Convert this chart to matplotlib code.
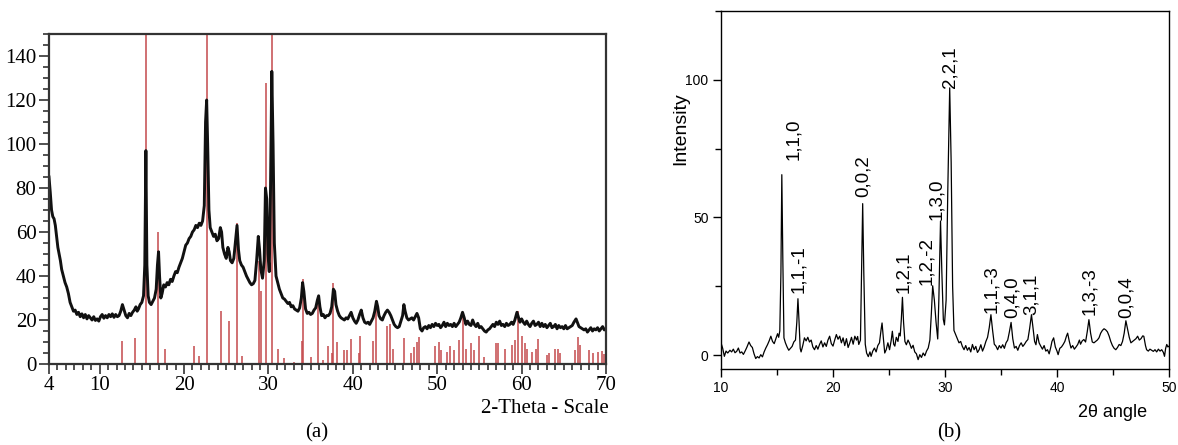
import matplotlib
matplotlib.use("Agg")
import matplotlib.pyplot as plt
from matplotlib.ticker import MultipleLocator

a_2theta = [
    4.0, 4.15, 4.3, 4.45, 4.6, 4.75, 4.9, 5.05, 5.2, 5.35, 5.5, 5.7, 5.9, 6.1, 6.3, 6.5, 6.7, 6.9,
    7.1, 7.3, 7.5, 7.7, 7.9, 8.1, 8.3, 8.5, 8.7, 8.9, 9.1, 9.3, 9.5, 9.7, 9.9, 10.1, 10.3, 10.5,
    10.7, 10.9, 11.1, 11.3, 11.5, 11.7, 11.9, 12.1, 12.3, 12.5, 12.7, 12.9, 13.1, 13.3, 13.5,
    13.7, 13.9, 14.1, 14.3, 14.45, 14.6, 14.8, 15.0, 15.2, 15.35, 15.48, 15.6, 15.75, 15.9,
    16.1, 16.3, 16.5, 16.7, 16.85, 16.98, 17.1, 17.25, 17.4, 17.6, 17.8, 18.0, 18.2, 18.4,
    18.6, 18.8, 19.0, 19.2, 19.4, 19.6, 19.8, 20.0, 20.2, 20.4, 20.6, 20.8, 21.0, 21.2, 21.4,
    21.6, 21.8, 22.0, 22.2, 22.4, 22.55, 22.68, 22.8, 22.95, 23.1, 23.3, 23.5, 23.7, 23.9,
    24.1, 24.3, 24.45, 24.6, 24.8, 25.0, 25.2, 25.35, 25.5, 25.7, 25.9, 26.1, 26.28, 26.45,
    26.6, 26.8, 27.0, 27.2, 27.4, 27.6, 27.8, 28.0, 28.2, 28.4, 28.6, 28.8, 28.95, 29.1, 29.3,
    29.5, 29.65, 29.8, 29.95, 30.1, 30.25, 30.4, 30.55, 30.7, 30.9, 31.1, 31.3, 31.5, 31.7,
    31.9, 32.1, 32.3, 32.5, 32.7, 32.9, 33.1, 33.3, 33.5, 33.7, 33.9, 34.05, 34.2, 34.4, 34.6,
    34.8, 35.0, 35.2, 35.4, 35.6, 35.8, 35.95, 36.1, 36.3, 36.5, 36.7, 36.9, 37.1, 37.3, 37.5,
    37.7, 37.85, 38.0, 38.2, 38.4, 38.6, 38.8, 39.0, 39.2, 39.4, 39.6, 39.8, 40.0, 40.2, 40.4,
    40.6, 40.8, 41.0, 41.2, 41.4, 41.6, 41.8, 42.0, 42.2, 42.4, 42.6, 42.8, 42.95, 43.1, 43.3,
    43.5, 43.7, 43.9, 44.1, 44.3, 44.5, 44.7, 44.9, 45.1, 45.3, 45.5, 45.7, 45.9, 46.05, 46.2,
    46.4, 46.6, 46.8, 47.0, 47.2, 47.4, 47.6, 47.8, 48.0, 48.2, 48.4, 48.6, 48.8, 49.0, 49.2,
    49.4, 49.6, 49.8, 50.0, 50.2, 50.4, 50.6, 50.8, 51.0, 51.2, 51.4, 51.6, 51.8, 52.0, 52.2,
    52.4, 52.6, 52.8, 53.0, 53.2, 53.4, 53.6, 53.8, 54.0, 54.2, 54.4, 54.6, 54.8, 55.0, 55.2,
    55.4, 55.6, 55.8, 56.0, 56.2, 56.4, 56.6, 56.8, 57.0, 57.2, 57.4, 57.6, 57.8, 58.0, 58.2,
    58.4, 58.6, 58.8, 59.0, 59.2, 59.45, 59.6, 59.8, 60.0, 60.2, 60.4, 60.6, 60.8, 61.0, 61.2,
    61.4, 61.6, 61.8, 62.0, 62.2, 62.4, 62.6, 62.8, 63.0, 63.2, 63.4, 63.6, 63.8, 64.0, 64.2,
    64.4, 64.6, 64.8, 65.0, 65.2, 65.4, 65.6, 65.8, 66.0, 66.2, 66.45, 66.6, 66.8, 67.0, 67.2,
    67.4, 67.6, 67.8, 68.0, 68.2, 68.4, 68.6, 68.8, 69.0, 69.2, 69.4, 69.6, 69.8, 70.0,
]
a_counts = [
    85, 78, 70, 67, 66, 63, 58, 53, 50, 47, 43, 40, 37, 35, 32, 28, 26, 24,
    24.5, 22.5, 23.5, 21.5, 22.8, 21, 22.5, 20.5, 22, 21, 20, 21.5, 19.8, 20.5, 19.5, 21.5, 22.5, 20.8,
    22, 21, 22.5, 21.5, 22.8, 21.2, 22.5, 21.5, 22, 24, 27, 24.5, 22, 21, 23,
    22, 23.5, 24.5, 26, 24, 25, 27, 28, 31, 45, 97, 45, 31, 28,
    27, 28.5, 30, 34, 45, 51, 40, 30, 32, 36, 35, 37, 36, 38.5,
    37.5, 40, 42, 41.5, 44, 46, 48, 51, 54, 55, 57, 58, 60, 61, 63,
    62, 64, 63, 65, 72, 110, 120, 100, 70, 62, 60, 58, 59, 56,
    57, 62, 60, 53, 50, 48, 53, 51, 47, 46, 48, 56, 63, 52,
    47, 45, 44, 42, 40, 38.5, 37, 36, 36.5, 38, 47, 58, 52, 43, 39,
    47, 80, 75, 50, 42, 80, 133, 100, 55, 40, 37, 34, 32, 30,
    29.5, 28.5, 27.5, 28, 26, 26.5, 25, 24.5, 24, 25.5, 30, 37, 33, 25, 23,
    23.5, 22.5, 23, 24.5, 25.5, 29, 31, 26, 22, 22.5, 21, 22, 22, 23, 26,
    34, 33, 27, 24, 22, 21, 20.5, 20, 21, 20.5, 22, 23.5, 21, 19.5, 18.5,
    20, 22.5, 24.5, 21, 19, 18.5, 19, 18, 19.5, 21, 24, 28.5, 26, 22, 20.5,
    20, 22, 23.5, 24.5, 23.5, 22, 20, 18, 17, 16.5, 17, 19.5, 22, 27, 24,
    21, 20, 20.5, 21, 20, 21.5, 23, 21, 16, 15, 16.5, 17, 16, 17.5, 16.5,
    18, 17, 18.5, 17.5, 18, 16.5, 17.5, 19, 17, 18.5, 17.5, 18, 17, 18.5, 17,
    18, 19, 21, 23.5, 21, 18, 19.5, 18, 17.5, 20, 18, 17, 18.5, 16.5, 17,
    16, 15, 14.5, 15.5, 16, 17, 18, 17, 19, 18, 19.5, 17.5, 18, 17, 18.5,
    17.5, 18, 19, 18, 20, 23.5, 21.5, 19, 20.5, 19, 18, 19.5, 18, 17, 18.5,
    19.5, 17.5, 18, 19, 17, 18.5, 17, 18, 16.5, 17.5, 18.5, 16.5, 17, 18, 16,
    17.5, 16.5, 17, 16, 17.5, 16, 16.5, 17, 17.5, 19, 20.5, 19, 17, 16.5, 16,
    15.5, 16, 14.5, 15.5, 16.5, 15, 16, 15.5, 16.5, 15, 16, 17, 15.5, 16,
]

# ---- panel (a): reference stick pattern ----
ref_2theta = [
    12.67, 14.2, 15.44, 16.86, 17.8, 21.16, 21.8, 22.7, 24.35, 25.35, 26.3, 26.9,
    28.85, 29.1, 29.7, 30.45, 31.1, 31.8, 33.0, 33.95, 34.1, 35.1, 35.9, 36.5, 37.0,
    37.5, 37.7, 38.1, 38.9, 39.3, 39.8, 40.7, 40.9, 42.4, 42.8, 44.05, 44.35, 44.75,
    46.1, 46.9, 47.3, 47.6, 47.8, 49.7, 50.2, 50.5, 51.2, 51.5, 52.0, 52.6, 53.0,
    53.4, 54.0, 54.4, 54.9, 55.6, 57.0, 57.2, 58.0, 58.9, 59.2, 59.6, 60.0, 60.4,
    60.6, 61.2, 61.7, 62.0, 63.0, 63.3, 64.0, 64.3, 64.6, 66.3, 66.7, 66.9, 68.0,
    68.5, 69.0, 69.5, 69.8,
]
ref_counts = [
    10.5, 12, 155, 60, 7, 8.2, 3.6, 155, 24, 19.7, 64, 3.6,
    47, 33, 127.6, 155, 6.7, 2.6, 1, 10.5, 38.5, 3, 31, 1.8, 8.2,
    4.8, 36.7, 10, 6.4, 6.4, 11.2, 4.8, 12.7, 10.5, 28.6, 17.3, 18, 7,
    11.7, 4.8, 7.9, 10.2, 12.4, 8.2, 10.2, 6.4, 5.6, 8.2, 6.4, 11, 23.8,
    7, 9.7, 6.4, 12.7, 3.3, 9.7, 9.7, 6.7, 8.6, 11, 24, 12.7, 9.7,
    7, 5.6, 7, 11.2, 4, 4.8, 7, 7, 5, 6.4, 12.4, 8.6, 6.4,
    5, 5.6, 6, 4.5,
]

# ---- panel (b): measured pattern ----
b_2theta = [
    10.0, 10.15, 10.3, 10.45, 10.6, 10.8, 10.95, 11.1, 11.25, 11.4, 11.55, 11.7, 11.85, 12.0,
    12.15, 12.3, 12.5, 12.65, 12.8, 12.95, 13.1, 13.25, 13.4, 13.55, 13.7, 13.85, 14.0, 14.15,
    14.3, 14.45, 14.6, 14.75, 14.9, 15.05, 15.15, 15.25, 15.35, 15.43, 15.52, 15.62, 15.75,
    15.9, 16.05, 16.2, 16.35, 16.5, 16.65, 16.77, 16.87, 16.97, 17.07, 17.15, 17.3, 17.45,
    17.6, 17.75, 17.9, 18.05, 18.2, 18.35, 18.5, 18.65, 18.8, 18.95, 19.1, 19.25, 19.4,
    19.55, 19.7, 19.85, 20.0, 20.15, 20.3, 20.45, 20.6, 20.75, 20.9, 21.05, 21.2, 21.35,
    21.5, 21.65, 21.8, 21.95, 22.1, 22.2, 22.3, 22.45, 22.55, 22.65, 22.75, 22.88, 23.0,
    23.15, 23.3, 23.4, 23.55, 23.7, 23.85, 24.0, 24.15, 24.3, 24.38, 24.5, 24.62, 24.75,
    24.9, 25.05, 25.2, 25.3, 25.42, 25.52, 25.65, 25.8, 25.9, 26.0, 26.1, 26.2, 26.3,
    26.42, 26.55, 26.7, 26.85, 27.0, 27.15, 27.3, 27.45, 27.6, 27.75, 27.9, 28.05, 28.2,
    28.35, 28.5, 28.65, 28.78, 28.9, 29.05, 29.2, 29.35, 29.45, 29.6, 29.72, 29.85, 29.95,
    30.1, 30.25, 30.42, 30.55, 30.68, 30.8, 30.95, 31.1, 31.25, 31.4, 31.55, 31.7, 31.85,
    32.0, 32.15, 32.3, 32.45, 32.6, 32.75, 32.9, 33.05, 33.2, 33.35, 33.5, 33.65, 33.8,
    33.95, 34.1, 34.25, 34.4, 34.55, 34.7, 34.85, 35.0, 35.15, 35.3, 35.45, 35.6, 35.75,
    35.9, 36.05, 36.2, 36.35, 36.5, 36.65, 36.8, 36.95, 37.1, 37.25, 37.4, 37.55, 37.72,
    37.88, 38.0, 38.12, 38.25, 38.4, 38.55, 38.7, 38.85, 39.0, 39.15, 39.3, 39.45, 39.55,
    39.7, 39.85, 40.0, 40.1, 40.25, 40.4, 40.55, 40.7, 40.85, 40.95, 41.1, 41.25, 41.4,
    41.55, 41.7, 41.85, 42.0, 42.1, 42.25, 42.4, 42.55, 42.7, 42.85, 43.0, 43.15, 43.3,
    43.45, 43.6, 43.75, 43.9, 44.05, 44.2, 44.35, 44.5, 44.65, 44.8, 44.95, 45.1, 45.25,
    45.4, 45.55, 45.7, 45.85, 46.0, 46.15, 46.3, 46.45, 46.6, 46.75, 46.9, 47.05, 47.2,
    47.35, 47.5, 47.65, 47.75, 47.9, 48.0, 48.15, 48.3, 48.45, 48.6, 48.75, 48.9, 49.05,
    49.2, 49.35, 49.5, 49.6, 49.7, 49.8, 49.9, 50.0,
]
b_intensity = [
    4.5, 2.5, -0.4, 1.5, 0.8, 1.8, 1.2, 2.2, 0.9, 1.4, 2.6, 0.8, 1.2, 0.3,
    1.5, 2.8, 4.8, 3.5, 2.8, 0.5, -1.2, -0.5, -1.0, 0.2, -0.6, 1.2, 2.6, 3.8,
    5.2, 6.9, 5.0, 4.2, 6.0, 7.8, 6.5, 8.8, 30, 65.5, 35, 6.3, 4.5,
    3.0, 1.8, 2.5, 3.2, 4.8, 5.5, 12, 20.5, 12, 2.5, 1.2, 3.5, 6.3,
    5.2, 6.5, 4.8, 5.5, 3.0, 2.0, 3.5, 2.2, 3.9, 5.2, 3.0, 4.5, 3.2,
    5.5, 6.9, 4.2, 3.3, 5.5, 7.5, 5.8, 6.9, 4.5, 6.3, 3.5, 6.0, 2.8,
    4.5, 6.5, 4.0, 6.9, 5.5, 6.8, 3.9, 5.5, 30, 55, 30, 4.0, 0.8,
    -0.5, 1.2, -0.4, 1.5, 2.6, 1.2, 3.5, 4.5, 9.5, 11.7, 6.0, 0.8, 2.0,
    4.5, 2.0, 5.5, 8.7, 4.0, 3.3, 6.5, 5.0, 8.0, 7.0, 13, 21, 12,
    5.0, 3.8, 5.5, 4.2, 2.5, 3.6, 1.2, 0.5, -1.6, 0.2, -0.8, 0.8, -0.2,
    1.5, 2.6, 5.5, 15, 25.2, 20, 12, 5.9, 20, 48.7, 30, 13, 11,
    20, 60, 97, 70, 25, 9.0, 7.5, 6.0, 4.5, 5.0, 3.2, 2.0, 3.5,
    1.8, 2.8, 1.2, 3.9, 2.0, 3.2, 1.0, 2.0, 3.8, 1.5, 3.0, 5.0, 6.5,
    10, 14.7, 9.0, 4.0, 3.3, 2.0, 3.5, 2.6, 3.8, 2.5, 4.5, 5.5, 8.5,
    11.9, 6.0, 2.6, 3.2, 1.8, 3.5, 4.5, 3.2, 4.0, 5.0, 5.7, 9.5, 14.7,
    9.0, 5.0, 3.8, 7.5, 4.5, 3.3, 2.2, 3.5, 1.5, 2.0, 0.5, 3.0, 5.0,
    6.3, 3.0, 1.5, 0.2, 2.5, 3.0, 3.9, 5.0, 7.0, 8.0, 5.0, 2.6, 3.5,
    2.2, 3.0, 3.9, 5.5, 4.0, 5.2, 5.7, 4.8, 8.5, 12.9, 8.0, 4.8, 4.5,
    5.0, 5.5, 6.3, 8.0, 9.0, 9.6, 9.2, 8.5, 7.0, 5.0, 3.5, 2.5, 2.0,
    2.8, 3.9, 3.5, 5.0, 8.0, 12.5, 9.5, 6.5, 4.5, 5.0, 5.5, 6.0, 6.9,
    5.5, 6.0, 7.0, 6.9, 3.5, 2.0, 1.5, 2.2, 1.8, 1.4, 2.0, 1.2, 2.2,
    1.5, 2.0, 1.0, -0.4, 2.5, 3.9, 3.0, 3.3,
]

# Miller indices and where their labels sit (2theta, intensity at label base)
hkl_labels = ["1,1,0", "1,1,-1", "0,0,2", "1,2,1", "1,2,-2", "1,3,0", "2,2,1",
              "1,1,-3", "0,4,0", "3,1,1", "1,3,-3", "0,0,4"]
hkl_2theta = [16.45, 16.9, 22.7, 26.3, 28.4, 29.25, 30.45, 34.2, 36.0, 37.7, 42.95, 46.2]
hkl_base = [70.7, 22.5, 57.5, 22.5, 25.5, 49, 97, 15.3, 13.5, 14.7, 14.7, 13.5]

a_xticks = [4, 10, 20, 30, 40, 50, 60, 70]
a_yticks = [0, 20, 40, 60, 80, 100, 120, 140]
b_xticks = [10, 20, 30, 40, 50]
b_yticks = [0, 50, 100]

SERIF = ["Liberation Serif", "DejaVu Serif"]
SANS = ["Liberation Sans", "DejaVu Sans"]


def draw_panel_a(ax):
    frame = "#333333"
    ax.vlines(ref_2theta, 0, ref_counts, color="#c4494c", linewidth=1.1)
    ax.plot(a_2theta, a_counts, color="#111111", linewidth=2.1)
    ax.set_xlim(4, 70)
    ax.set_ylim(0, 150)
    ax.set_xticks(a_xticks)
    ax.set_yticks(a_yticks)
    ax.xaxis.set_minor_locator(MultipleLocator(1))
    ax.yaxis.set_minor_locator(MultipleLocator(5))
    for s in ax.spines.values():
        s.set_color(frame)
        s.set_linewidth(1.6)
    ax.tick_params(which="both", direction="out", color=frame, width=1.2)
    ax.tick_params(which="major", length=7, labelsize=15, pad=2)
    ax.tick_params(which="minor", length=4)
    for lab in ax.get_xticklabels() + ax.get_yticklabels():
        lab.set_family(SERIF)
    ax.set_xlabel("2-Theta - Scale", family=SERIF, fontsize=15, ha="right")
    ax.xaxis.set_label_coords(1.005, -0.105)


def draw_panel_b(ax):
    ax.plot(b_2theta, b_intensity, color="black", linewidth=0.9)
    for lab, x, y in zip(hkl_labels, hkl_2theta, hkl_base):
        ax.text(x, y, lab, rotation=90, ha="center", va="bottom",
                fontsize=13.5, family=SANS)
    ax.set_xlim(10, 50)
    ax.set_ylim(-5, 125)
    ax.set_xticks(b_xticks)
    ax.set_yticks(b_yticks)
    ax.xaxis.set_minor_locator(MultipleLocator(5))
    ax.yaxis.set_minor_locator(MultipleLocator(25))
    for s in ax.spines.values():
        s.set_linewidth(1.0)
    ax.tick_params(which="both", direction="out", width=1.0)
    ax.tick_params(which="major", length=6, labelsize=10, pad=3)
    ax.tick_params(which="minor", length=4)
    for lab in ax.get_xticklabels() + ax.get_yticklabels():
        lab.set_family(SANS)
    ax.set_ylabel("Intensity", family=SANS, fontsize=14)
    ax.yaxis.set_label_coords(-0.071, 0.67)
    ax.set_xlabel("2θ angle", family=SANS, fontsize=13)
    ax.xaxis.set_label_coords(0.873, -0.098)


def main():
    W, H = 1178, 445
    fig = plt.figure(figsize=(W / 100, H / 100), dpi=100)
    ax_a = fig.add_axes([49 / W, 1 - 364 / H, (606 - 49) / W, (364 - 34) / H])
    ax_b = fig.add_axes([721 / W, 1 - 369 / H, (1169 - 721) / W, (369 - 10.7) / H])
    draw_panel_a(ax_a)
    draw_panel_b(ax_b)
    fig.text(317 / W, 1 - 433 / H, "(a)", family=SERIF, fontsize=15, ha="center", va="center")
    fig.text(949 / W, 1 - 433 / H, "(b)", family=SERIF, fontsize=15, ha="center", va="center")
    fig.savefig("out.png", dpi=100)


if __name__ == "__main__":
    main()
